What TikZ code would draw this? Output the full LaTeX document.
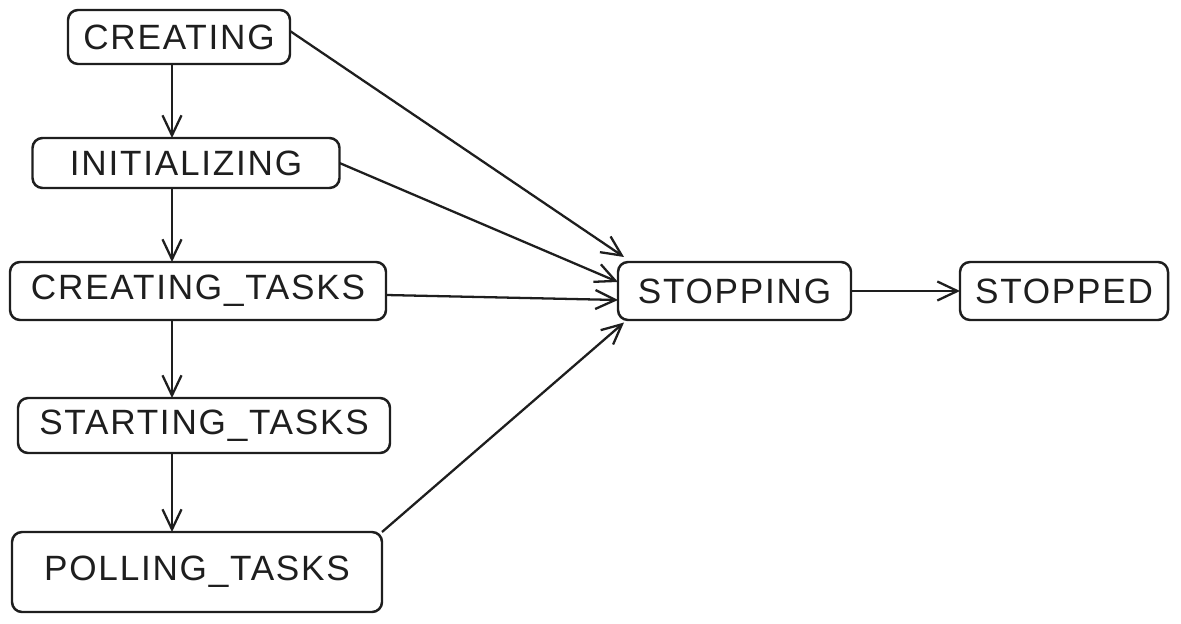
\documentclass[tikz,border=0pt]{standalone}
\usepackage{fontspec}
\setmainfont{Liberation Sans}[LetterSpace=5]
\usetikzlibrary{arrows.meta, positioning}
\definecolor{inkblack}{HTML}{1E1E1E}
\tikzset{
    state/.style={rectangle, draw=inkblack, line width=1.4pt, outer sep=0pt, fill=white, rounded corners=2mm, minimum height=1.1cm, align=center, text=inkblack, font=\fontsize{20}{24}\selectfont},
    arrow/.style={-{Straight Barb[length=4mm, width=3.8mm]}, line width=1.3pt, draw=inkblack}
}

\begin{document}
\begin{tikzpicture}[node distance=1.5cm]
        \useasboundingbox (0,0) rectangle (23.62,-12.48);
        \node[state, minimum width=4.44cm, minimum height=1.08cm] (creating) at (3.58,-0.74) {CREATING};
        \node[state, below=1.48cm of creating, xshift=0.14cm, minimum width=6.14cm, minimum height=1.0cm] (init) {INITIALIZING};
        \node[state, below=1.48cm of init, xshift=0.24cm, minimum width=7.52cm, minimum height=1.16cm] (ctasks) {CREATING\_TASKS};
        \node[state, below=1.56cm of ctasks, xshift=0.12cm, minimum width=7.44cm] (stasks) {STARTING\_TASKS};
        \node[state, below=1.58cm of stasks, xshift=-0.14cm, minimum width=7.4cm, minimum height=1.6cm] (ptasks) {POLLING\_TASKS};
        \node[state, right=4.64cm of ctasks, minimum width=4.66cm, minimum height=1.16cm] (stopping) {STOPPING};
        \node[state, right=2.18cm of stopping, minimum width=4.16cm, minimum height=1.16cm] (stopped) {STOPPED};
        \coordinate (spine) at (3.44,0);
        \draw[arrow] (creating.south -| spine) -- (init.north -| spine);
        \draw[arrow] (init.south -| spine) -- (ctasks.north -| spine);
        \draw[arrow] (ctasks.south -| spine) -- (stasks.north -| spine);
        \draw[arrow] (stasks.south -| spine) -- (ptasks.north -| spine);
        \draw[arrow] ([yshift=0.12cm]creating.east) -- ([xshift=0.12cm,yshift=0.1cm]stopping.north west);
        \draw[arrow] (init.east) -- ([yshift=0.18cm]stopping.west);
        \draw[arrow] ([yshift=-0.08cm]ctasks.east) -- ([yshift=-0.18cm]stopping.west);
        \draw[arrow] (ptasks.north east) -- ([xshift=0.12cm,yshift=-0.05cm]stopping.south west);
        \draw[arrow] (stopping) -- (stopped);
    \end{tikzpicture}
\end{document}
